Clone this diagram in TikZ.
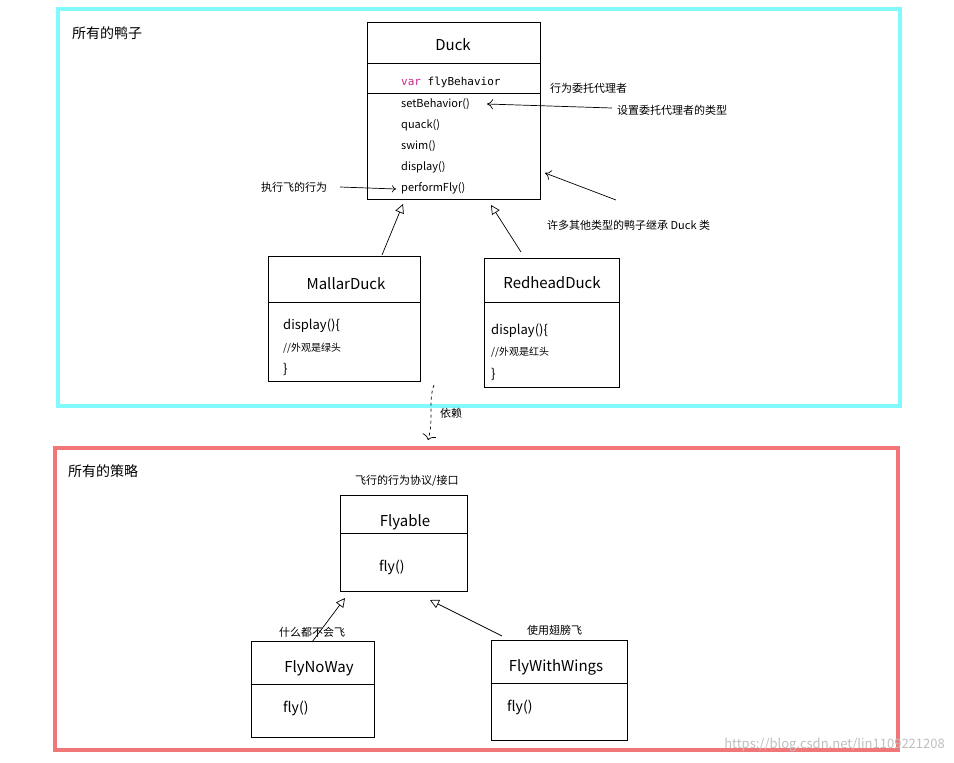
\documentclass[tikz,border=0pt]{standalone}
\usepackage{fontspec}
\setmainfont{Noto Sans CJK SC}
\newfontfamily\monof{DejaVu Sans Mono}
\usetikzlibrary{arrows.meta}
\definecolor{cyanf}{RGB}{128,250,252}
\definecolor{redf}{RGB}{240,118,120}
\definecolor{kw}{RGB}{200,40,140}
\tikzset{
 box/.style={draw=black,line width=0.9pt},
 frm/.style={line width=3.5pt},
 t/.style={font=\fontsize{15}{17}\selectfont,inner sep=0},
 m/.style={font=\fontsize{11}{13}\selectfont,inner sep=0,anchor=west},
 lb/.style={font=\fontsize{11}{13}\selectfont,inner sep=0,anchor=west},
 inh/.style={-{Triangle[open,length=9pt,width=9pt]},line width=0.7pt},
 ptr/.style={-{To[length=6pt,width=10pt]},line width=0.7pt},
}
\begin{document}
\begin{tikzpicture}[x=1pt,y=-1pt]
\useasboundingbox (0,0) rectangle (954,763);
\fill[white] (0,0) rectangle (954,763);
\draw[frm,cyanf] (58,9) rectangle (900,406);
\draw[frm,redf] (55,448) rectangle (898,750);
\node[lb,font=\fontsize{14}{16}\selectfont] (l1) at (72,33) {所有的鸭子};
\node[lb,font=\fontsize{14}{16}\selectfont] (l2) at (68,471) {所有的策略};
% Duck
\draw[box] (367,22) rectangle (540,199);
\draw[box] (367,63) -- (540,63) (367,93) -- (540,93);
\node[t] (duck) at (453,45) {Duck};
\node[m] (fb) at (401,82) {\monof{\color{kw}var}\ flyBehavior};
\node[m] (sb) at (401,104) {setBehavior()};
\node[m] at (401,125) {quack()};
\node[m] at (401,146) {swim()};
\node[m] at (401,167) {display()};
\node[m] (pf) at (401,188) {performFly()};
\coordinate (duckB1) at (403,204);
\coordinate (duckB2) at (491,205);
\coordinate (duckR) at (545,173);
% Mallar
\draw[box] (268,256) rectangle (420,381);
\draw[box] (268,302) -- (420,302);
\node[t] (md) at (346,284) {MallarDuck};
\node[m,font=\fontsize{13}{15}\selectfont] at (283,326) {display()\{};
\node[m,font=\fontsize{10}{12}\selectfont] at (283,348) {//外观是绿头};
\node[m,font=\fontsize{13}{15}\selectfont] at (283,369) {\}};
\coordinate (mdT) at (382,255);
% Redhead
\draw[box] (484,258) rectangle (619,387);
\draw[box] (484,302) -- (619,302);
\node[t] (rd) at (552,283) {RedheadDuck};
\node[m,font=\fontsize{13}{15}\selectfont] at (491,331) {display()\{};
\node[m,font=\fontsize{10}{12}\selectfont] at (491,352) {//外观是红头};
\node[m,font=\fontsize{13}{15}\selectfont] at (491,374) {\}};
\coordinate (rdT) at (521,252);
\draw[inh] (mdT) -- (duckB1);
\draw[inh] (rdT) -- (duckB2);
% labels
\node[lb] (inhl) at (547,225) {许多其他类型的鸭子继承 Duck 类};
\coordinate (inhs) at (616,200);
\draw[ptr] (inhs) -- (duckR);
\node[lb] (dl) at (550,88) {行为委托代理者};
\node[lb] (sl) at (617,110) {设置委托代理者的类型};
\coordinate (sls) at (612,108);
\coordinate (sbe) at (487,104);
\draw[ptr] (sls) -- (sbe);
\node[lb] (pl) at (261,187) {执行飞的行为};
\coordinate (pls) at (340,187);
\coordinate (ple) at (396,189);
\draw[-{To[length=4pt,width=7pt]},line width=0.7pt] (pls) -- (ple);
% dependency
\coordinate (d1) at (434,385);
\coordinate (d2) at (428,440);
\draw[dashed,line width=0.7pt,-{To[length=5pt,width=14pt]}] (d1) .. controls (428,400) and (434,420) .. (d2);
\node[lb] (dep) at (440,413) {依赖};
% Flyable
\node[lb] (fl) at (355,481) {飞行的行为协议/接口};
\draw[box] (340,495) rectangle (467,591);
\draw[box] (340,533) -- (467,533);
\node[t] (fy) at (405,522) {Flyable};
\node[m,font=\fontsize{14}{16}\selectfont] at (379,567) {fly()};
\coordinate (fyB1) at (345,598);
\coordinate (fyB2) at (430,600);
% FlyNoWay
\node[lb] (nl) at (279,632) {什么都不会飞};
\draw[box] (251,641) rectangle (374,737);
\draw[box] (251,684) -- (374,684);
\node[t] (nw) at (319,668) {FlyNoWay};
\node[m,font=\fontsize{14}{16}\selectfont] at (283,708) {fly()};
\coordinate (nwT) at (312,642);
% FlyWithWings
\node[lb] (wl) at (527,630) {使用翅膀飞};
\draw[box] (491,640) rectangle (627,740);
\draw[box] (491,683) -- (627,683);
\node[t] (ww) at (556,667) {FlyWithWings};
\node[m,font=\fontsize{14}{16}\selectfont] at (507,707) {fly()};
\coordinate (wwT) at (502,636);
\draw[inh] (nwT) -- (fyB1);
\draw[inh] (wwT) -- (fyB2);
\node[inner sep=0,anchor=east,text=black!25,font=\fontsize{13}{15}\selectfont] (wm) at (945,745) {https://blog.csdn.net/lin1109221208};
\end{tikzpicture}
\end{document}
